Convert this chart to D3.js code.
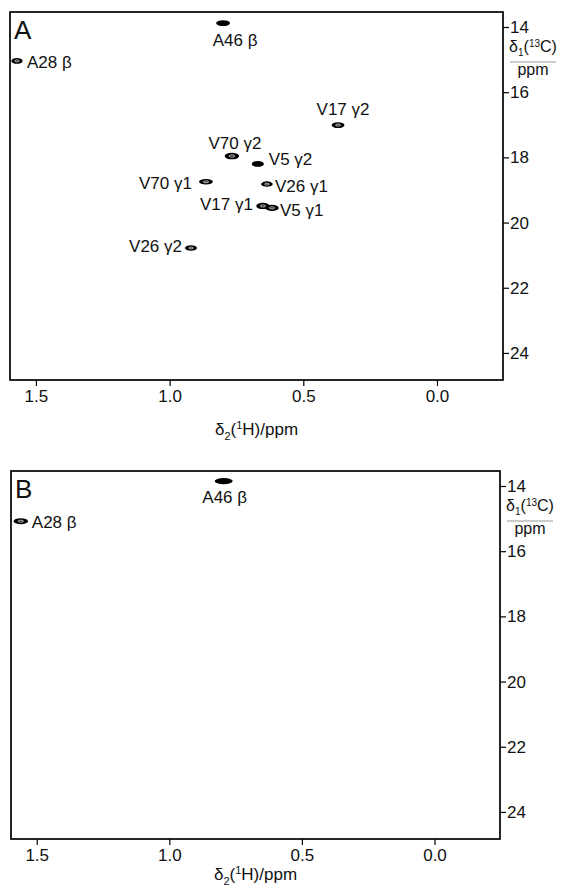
<!DOCTYPE html>
<html>
<head>
<meta charset="utf-8">
<script src="https://cdn.jsdelivr.net/npm/d3@7"></script>
<style>
  body { margin: 0; background: #fff; }
  svg { font-family: "Liberation Sans", Arial, sans-serif; }
</style>
</head>
<body>
<svg id="chart" width="563" height="887"></svg>
<script>
// panel A peaks (1H ppm, 13C ppm, contour widths in ppm)
const peakNamesA = ['A28 β', 'A46 β', 'V17 γ2', 'V70 γ2', 'V5 γ2', 'V70 γ1', 'V26 γ1', 'V17 γ1', 'V5 γ1', 'V26 γ2'];
const peakHA = [1.571, 0.800, 0.370, 0.767, 0.670, 0.864, 0.636, 0.651, 0.617, 0.920];
const peakCA = [15.04, 13.88, 17.01, 17.96, 18.20, 18.75, 18.82, 19.49, 19.55, 20.78];
const widthHA = [0.042, 0.052, 0.048, 0.054, 0.045, 0.052, 0.044, 0.05, 0.05, 0.045];
const widthCA = [0.18, 0.18, 0.18, 0.2, 0.18, 0.17, 0.17, 0.19, 0.19, 0.17];

// panel B peaks
const peakNamesB = ['A28 β', 'A46 β'];
const peakHB = [1.560, 0.795];
const peakCB = [15.08, 13.85];
const widthHB = [0.054, 0.068];
const widthCB = [0.18, 0.19];

const xTicks = [1.5, 1.0, 0.5, 0.0];
const yTicks = [14, 16, 18, 20, 22, 24];
const xDomain = [1.597, -0.247];
const yDomain = [13.54, 24.83];

// label placement relative to peak centre (px)
const labelLayout = {
	'A28 β': { anchor: 'start', dx: 10, dy: 1 },
	'A46 β': { anchor: 'middle', dx: 12, dy: 16.5 },
	'V17 γ2': { anchor: 'middle', dx: 5, dy: -16 },
	'V70 γ2': { anchor: 'middle', dx: 3, dy: -13 },
	'V5 γ2': { anchor: 'start', dx: 11, dy: -4.5 },
	'V70 γ1': { anchor: 'end', dx: -14, dy: 1.5 },
	'V26 γ1': { anchor: 'start', dx: 8, dy: 1.5 },
	'V17 γ1': { anchor: 'end', dx: -10, dy: -1.5 },
	'V5 γ1': { anchor: 'start', dx: 8, dy: 2 },
	'V26 γ2': { anchor: 'end', dx: -9, dy: -2 }
};
const labelLayoutB = {
	'A28 β': { anchor: 'start', dx: 11, dy: 1 },
	'A46 β': { anchor: 'middle', dx: 1, dy: 16 }
};
const solidPeaks = new Set(['A46 β', 'V5 γ2']);

const svg = d3.select('#chart');
const fontSize = 17;

function drawPanel(opts) {
	const { left, top, right, bottom, letter, names, hs, cs, wh, wc, layout, titleY } = opts;
	const x = d3.scaleLinear().domain(xDomain).range([left, right]);
	const y = d3.scaleLinear().domain(yDomain).range([top, bottom]);
	const g = svg.append('g');

	// bottom axis
	const xAxis = g.append('g')
		.attr('transform', 'translate(0,' + bottom + ')')
		.call(d3.axisBottom(x).tickValues(xTicks).tickSize(6).tickPadding(4).tickFormat(d3.format('.1f')));
	xAxis.select('.domain').remove();
	xAxis.selectAll('line').attr('stroke', '#000').attr('stroke-width', 1.2);
	xAxis.selectAll('text').attr('font-size', fontSize).attr('fill', '#111').attr('font-family', null);

	// right axis
	const yAxis = g.append('g')
		.attr('transform', 'translate(' + right + ',0)')
		.call(d3.axisRight(y).tickValues(yTicks).tickSize(6).tickPadding(1));
	yAxis.select('.domain').remove();
	yAxis.selectAll('line').attr('stroke', '#000').attr('stroke-width', 1.2);
	yAxis.selectAll('text').attr('font-size', fontSize).attr('fill', '#111').attr('font-family', null);

	// frame
	g.append('rect')
		.attr('x', left).attr('y', top)
		.attr('width', right - left).attr('height', bottom - top)
		.attr('fill', 'none').attr('stroke', '#000').attr('stroke-width', 1.7);

	// panel letter
	g.append('text')
		.attr('x', left + 4).attr('y', top + 27)
		.attr('font-size', 26).attr('fill', '#111')
		.text(letter);

	// right axis title
	const tx = right + 30;
	const t1 = g.append('text')
		.attr('x', tx).attr('y', top + 40)
		.attr('text-anchor', 'middle').attr('font-size', 16).attr('fill', '#111');
	t1.append('tspan').text('δ');
	t1.append('tspan').attr('font-size', 10).attr('dy', 4).text('1');
	t1.append('tspan').attr('dy', -4).text('(');
	t1.append('tspan').attr('font-size', 10).attr('dy', -5).text('13');
	t1.append('tspan').attr('dy', 5).text('C)');
	g.append('line')
		.attr('x1', tx - 23).attr('x2', tx + 23)
		.attr('y1', top + 50).attr('y2', top + 50)
		.attr('stroke', '#999').attr('stroke-width', 1.2);
	g.append('text')
		.attr('x', tx).attr('y', top + 63)
		.attr('text-anchor', 'middle').attr('font-size', 16).attr('fill', '#111')
		.text('ppm');

	// bottom axis title
	const t2 = g.append('text')
		.attr('x', (left + right) / 2).attr('y', titleY)
		.attr('text-anchor', 'middle').attr('font-size', fontSize).attr('fill', '#111');
	t2.append('tspan').text('δ');
	t2.append('tspan').attr('font-size', 11).attr('dy', 5).text('2');
	t2.append('tspan').attr('dy', -5).text('(');
	t2.append('tspan').attr('font-size', 11).attr('dy', -6).text('1');
	t2.append('tspan').attr('dy', 6).text('H)/ppm');

	const peaks = names.map((n, i) => ({ name: n, h: hs[i], c: cs[i], wh: wh[i], wc: wc[i] }));

	// contours: filled outer level then a thin inner level
	g.selectAll('.peak')
		.data(peaks)
		.enter()
		.append('ellipse')
		.attr('class', 'peak')
		.attr('cx', d => x(d.h))
		.attr('cy', d => y(d.c))
		.attr('rx', d => Math.abs(x(0) - x(d.wh)) / 2)
		.attr('ry', d => Math.abs(y(d.c + d.wc) - y(d.c)) / 2)
		.attr('fill', '#000');

	g.selectAll('.ring')
		.data(peaks.filter(d => !solidPeaks.has(d.name)))
		.enter()
		.append('ellipse')
		.attr('class', 'ring')
		.attr('cx', d => x(d.h))
		.attr('cy', d => y(d.c))
		.attr('rx', d => Math.abs(x(0) - x(d.wh)) / 5)
		.attr('ry', d => Math.abs(y(d.c + d.wc) - y(d.c)) / 6)
		.attr('fill', 'none')
		.attr('stroke', '#fff')
		.attr('stroke-width', 0.7);

	g.selectAll('.plabel')
		.data(peaks)
		.enter()
		.append('text')
		.attr('class', 'plabel')
		.attr('x', d => x(d.h) + layout[d.name].dx)
		.attr('y', d => y(d.c) + layout[d.name].dy + 6)
		.attr('text-anchor', d => layout[d.name].anchor)
		.attr('font-size', fontSize)
		.attr('fill', '#111')
		.text(d => d.name);
}

drawPanel({
	left: 10, top: 12, right: 503, bottom: 380, letter: 'A',
	names: peakNamesA, hs: peakHA, cs: peakCA, wh: widthHA, wc: widthCA,
	layout: labelLayout, titleY: 435
});

drawPanel({
	left: 11, top: 471, right: 500, bottom: 839, letter: 'B',
	names: peakNamesB, hs: peakHB, cs: peakCB, wh: widthHB, wc: widthCB,
	layout: labelLayoutB, titleY: 880
});
</script>
</body>
</html>
